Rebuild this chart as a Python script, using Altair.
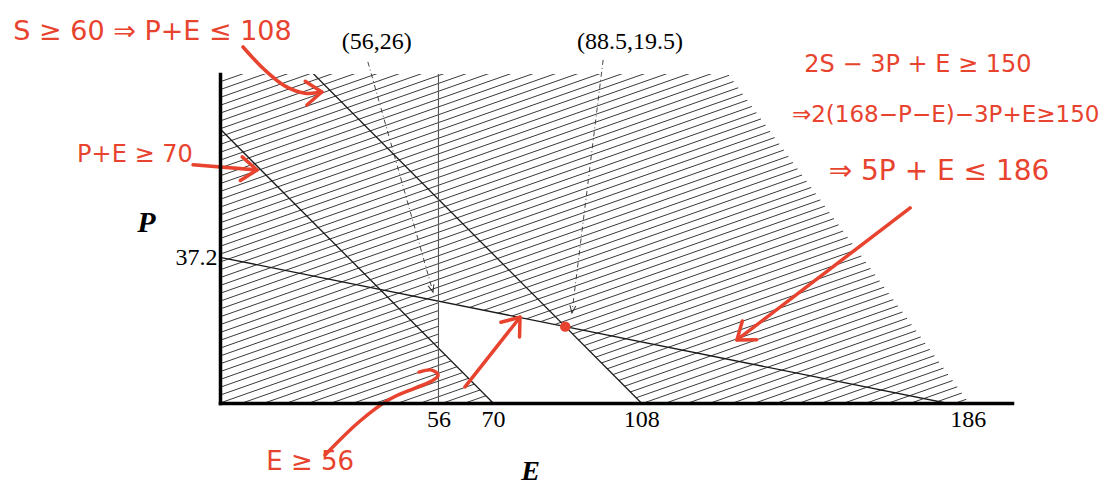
import math
import altair as alt
import pandas as pd

# ---------------- data ----------------
# constraint lines, drawn from (E1,P1) to (E2,P2)
line_names = ["P+E=70", "P+E=108", "5P+E=186"]
line_e1 = [0, 0, 0]
line_p1 = [70, 108, 37.2]
line_e2 = [70, 108, 186]
line_p2 = [0, 0, 0]

# vertical constraint E = 56
vertical_e = [56]

# feasible (white) region: upper / lower boundary over E
feas_e = [56, 70, 88.5, 108]
feas_top = [26, 23.2, 19.5, 0]
feas_bottom = [14, 0, 0, 0]

# right edge of the hatched area (E at P)
hatch_edge_e = [192, 129.5]
hatch_edge_p = [0, 85]

# axis tick labels
x_ticks = [56, 70, 108, 186]
y_ticks = [37.2]

# vertex annotations
vertex_labels = ["(56,26)", "(88.5,19.5)"]
vertex_label_e = [40.2, 105.1]
vertex_label_p = [92.2, 92.2]
pointer_start_e = [37.9, 98.2]
pointer_start_p = [87.1, 87.6]
pointer_end_e = [54.6, 90.2]
pointer_end_p = [28.3, 23.0]

# optimum point (red dot)
optimum_e = [88.5]
optimum_p = [19.5]

# red handwritten notes
note_texts = ["S ≥ 60 ⇒ P+E ≤ 108", "P+E ≥ 70", "2S − 3P + E ≥ 150",
              "⇒2(168−P−E)−3P+E≥150", "⇒ 5P + E ≤ 186", "E ≥ 56"]
note_e = [-17.3, -21.8, 178.9, 186.0, 184.3, 23.1]
note_p = [94.6, 63.3, 86.3, 73.5, 59.0, -15.1]
note_size = [27, 24, 24, 23, 28, 26]

# red pen strokes (E, P) ; True = ends with an arrow head
stroke1_e = [5.9, 11.5, 16.7, 21.8, 26.1]
stroke1_p = [90.9, 85.0, 80.9, 79.1, 79.4]
stroke2_e = [-6.9, 9.5]
stroke2_p = [60.8, 59.5]
stroke3_e = [176.9, 132.5]
stroke3_p = [49.8, 16.1]
stroke4_e = [26.9, 35.9, 43.6, 50.0, 54.3, 55.9, 54.3, 51.0]
stroke4_p = [-13.3, -4.6, 1.0, 3.8, 5.6, 7.1, 8.4, 7.9]
stroke5_e = [62.8, 76.9]
stroke5_p = [4.1, 21.9]
strokes = [(stroke1_e, stroke1_p, True), (stroke2_e, stroke2_p, True),
           (stroke3_e, stroke3_p, True), (stroke4_e, stroke4_p, False),
           (stroke5_e, stroke5_p, True)]

# ---------------- layout / style ----------------
RED = "#e8432e"
X_MAX, Y_MAX = 203, 84
W, H = 792, 329
PX_E = W / X_MAX
PX_P = H / Y_MAX
HATCH_SLOPE = 0.35
HATCH_STEP = 2.0
SERIF = "Liberation Serif"

xscale = alt.Scale(domain=[0, X_MAX], nice=False, zero=False)
yscale = alt.Scale(domain=[0, Y_MAX], nice=False, zero=False)

x_axis = alt.Axis(
    values=x_ticks, format="d", ticks=False, grid=False,
    domainColor="black", domainWidth=3.5, domainCap="square",
    labelFont=SERIF, labelFontSize=24, labelColor="black", labelPadding=4,
    labelFlush=False, labelOverlap=False,
    labelOffset={"condition": {"test": "datum.value == 186", "value": 22}, "value": 0},
    title="E", titleFont=SERIF, titleFontSize=28, titleFontStyle="italic",
    titleFontWeight="bold", titleColor="black", titleX=310, titleY=68,
    titleAlign="center", titleBaseline="middle", zindex=1)
y_axis = alt.Axis(
    values=y_ticks, format=".1f", ticks=False, grid=False,
    domainColor="black", domainWidth=3.5, domainCap="square",
    labelFont=SERIF, labelFontSize=24, labelColor="black", labelPadding=3,
    labelFlush=False, labelOverlap=False,
    title="P", titleFont=SERIF, titleFontSize=30, titleFontStyle="italic",
    titleFontWeight="bold", titleColor="black", titleAngle=0, titleX=-74, titleY=148,
    titleAlign="center", titleBaseline="middle", zindex=1)


def X(f):
    return alt.X(f"{f}:Q", scale=xscale, axis=x_axis)


def Y(f):
    return alt.Y(f"{f}:Q", scale=yscale, axis=y_axis)


def head_angle(e0, p0, e1, p1):
    dx = (e1 - e0) * PX_E
    dy = -(p1 - p0) * PX_P
    return math.degrees(math.atan2(dx, -dy)) % 360


# ---------------- hatching ----------------
edge_a = hatch_edge_e[0]
edge_b = (hatch_edge_e[0] - hatch_edge_e[1]) / (hatch_edge_p[1] - hatch_edge_p[0])
hatch = alt.Chart(alt.sequence(-80, Y_MAX + 2, HATCH_STEP, as_="k")).transform_calculate(
    e1="0",
    p1="datum.k",
    e2=f"({edge_a} - {edge_b} * datum.k) / (1 + {edge_b} * {HATCH_SLOPE})",
).transform_calculate(
    p2=f"datum.k + {HATCH_SLOPE} * datum.e2"
).mark_rule(clip=True, color="#3a3a3a", strokeWidth=1).encode(
    x=X("e1"), y=Y("p1"), x2="e2:Q", y2="p2:Q")

feas_df = pd.DataFrame({"e": feas_e, "top": feas_top, "bottom": feas_bottom})
feasible = alt.Chart(feas_df).mark_area(color="white", opacity=1).encode(
    x=X("e"), y=Y("top"), y2="bottom:Q")

lines_df = pd.DataFrame({"name": line_names, "e1": line_e1, "p1": line_p1,
                         "e2": line_e2, "p2": line_p2})
lines = alt.Chart(lines_df).mark_rule(clip=True, color="#1a1a1a", strokeWidth=1.3).encode(
    x=X("e1"), y=Y("p1"), x2="e2:Q", y2="p2:Q")

vert = alt.Chart(pd.DataFrame({"e": vertical_e})).mark_rule(
    color="#555555", strokeWidth=1.1).encode(x=X("e"))

ptr_df = pd.DataFrame({"e1": pointer_start_e, "p1": pointer_start_p,
                       "e2": pointer_end_e, "p2": pointer_end_p})
pointers = alt.Chart(ptr_df).mark_rule(color="#333333", strokeWidth=0.9,
                                       strokeDash=[5, 3, 1, 3]).encode(
    x=X("e1"), y=Y("p1"), x2="e2:Q", y2="p2:Q")

ptr_head_df = pd.DataFrame({
    "e": pointer_end_e, "p": pointer_end_p,
    "ang": [head_angle(a, b, c, d) for a, b, c, d in
            zip(pointer_start_e, pointer_start_p, pointer_end_e, pointer_end_p)]})
ptr_heads = alt.Chart(ptr_head_df).mark_point(
    shape="M-0.4,1L0,0L0.4,1", filled=False, stroke="#333333", strokeWidth=1,
    size=220, opacity=1).encode(x=X("e"), y=Y("p"), angle=alt.Angle("ang:Q", scale=None))

vlab_df = pd.DataFrame({"t": vertex_labels, "e": vertex_label_e, "p": vertex_label_p})
vlabels = alt.Chart(vlab_df).mark_text(font=SERIF, fontSize=24, color="black").encode(
    x=X("e"), y=Y("p"), text="t:N")

# red pen strokes
rows, heads = [], []
for sid, (se, sp, has_head) in enumerate(strokes):
    for i, (e, p) in enumerate(zip(se, sp)):
        rows.append({"sid": sid, "idx": i, "e": e, "p": p})
    if has_head:
        heads.append({"e": se[-1], "p": sp[-1],
                      "ang": head_angle(se[-2], sp[-2], se[-1], sp[-1])})
red_lines = alt.Chart(pd.DataFrame(rows)).mark_line(
    color=RED, strokeWidth=3.5, strokeCap="round", strokeJoin="round",
    interpolate="catmull-rom").encode(
    x=X("e"), y=Y("p"), detail="sid:N", order="idx:Q")
red_heads = alt.Chart(pd.DataFrame(heads)).mark_point(
    shape="M-0.75,1L0,0L0.75,1", filled=False, stroke=RED, strokeWidth=3.5,
    strokeCap="round", strokeJoin="round", size=1000, opacity=1).encode(
    x=X("e"), y=Y("p"), angle=alt.Angle("ang:Q", scale=None))

dot = alt.Chart(pd.DataFrame({"e": optimum_e, "p": optimum_p})).mark_point(
    filled=True, color=RED, size=110, opacity=1).encode(x=X("e"), y=Y("p"))

notes_df = pd.DataFrame({"t": note_texts, "e": note_e, "p": note_p, "s": note_size})
notes = alt.Chart(notes_df).mark_text(font="DejaVu Sans", color=RED).encode(
    x=X("e"), y=Y("p"), text="t:N", size=alt.Size("s:Q", scale=None))

chart = alt.layer(
    hatch, feasible, lines, vert, pointers, ptr_heads, vlabels,
    red_lines, red_heads, dot, notes
).properties(
    width=W, height=H,
    padding={"left": 212, "top": 66, "right": 97, "bottom": 84},
    autosize=alt.AutoSizeParams(type="none"),
).configure_view(stroke=None)

chart.save("out.html", embed_options={"renderer": "svg", "actions": False})
